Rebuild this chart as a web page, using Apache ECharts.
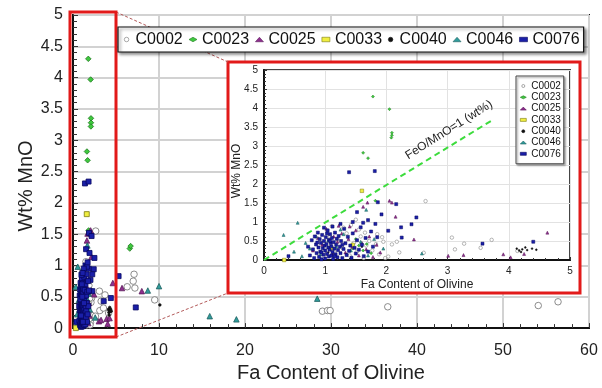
<!DOCTYPE html>
<html>
<head>
<meta charset="utf-8">
<script src="https://cdn.jsdelivr.net/npm/echarts@6/dist/echarts.min.js"></script>
<style>
html, body { margin: 0; padding: 0; background: #fff; }
#chart { width: 602px; height: 388px; }
</style>
</head>
<body>
<div id="chart"></div>
<script>
// sample names, in legend order
const sampleNames = ['C0002', 'C0023', 'C0025', 'C0033', 'C0040', 'C0046', 'C0076'];

// [Fa content, wt% MnO]
const c0002 = [
  [2.64,1.55],[3.07,0.59],[3.12,0.28],[3.27,0.43],[3.54,0.32],[3.72,0.53],[4.14,0.24],
  [2.17,0.48],[2.09,0.41],[2.21,0.20],[2.03,0.09],[1.93,0.60],[2.61,0.19],
  [1.20,0.55],[1.28,0.32],[1.35,0.70],[1.40,0.12],[1.47,0.45],[1.52,0.22],[1.58,0.62],
  [1.63,0.05],[1.67,0.38],[1.72,0.50],[1.77,0.25],[1.83,0.42],[1.88,0.15],[1.95,0.48],
  [1.98,0.05],[1.30,0.85],[1.42,0.92],[1.55,0.80],[1.65,0.72],[1.08,0.62],[1.15,0.20],
  [1.85,0.68],[1.11,0.89],[1.50,1.06],
  [6.3,0.66],[7.0,0.75],[7.1,0.86],[7.2,0.64],[9.5,0.45],
  [29.0,0.27],[29.6,0.28],[29.9,0.28],[36.6,0.34],[54.1,0.36],[56.4,0.42]
];
const c0023 = [
  [1.78,4.30],[2.05,3.97],[2.09,3.35],[2.09,3.28],[2.08,3.22],[1.62,2.82],[1.70,2.68],
  [1.82,1.56],[1.55,0.38],[1.62,0.25],[1.68,0.42],[1.45,0.30],[1.75,0.18],[1.50,0.55],
  [6.6,1.27],[6.7,1.31]
];
const c0025 = [
  [1.69,1.51],[1.62,1.40],[2.05,1.56],[2.09,1.51],[2.15,1.14],[2.45,0.54],
  [3.01,0.11],[3.26,0.13],[3.91,0.15],[4.03,0.07],[4.25,0.16],[4.63,0.72],
  [0.88,0.58],[0.95,0.40],[1.02,0.82],[1.08,0.30],[1.14,0.62],[1.20,0.48],[1.27,0.70],
  [1.33,0.20],[1.38,0.55],[1.44,0.35],[1.50,0.78],[1.55,0.12],[1.60,0.45],[1.67,0.28],
  [1.72,0.62],[1.78,0.08],[1.84,0.40],[1.90,0.20],[1.22,0.90],[1.40,0.88],[0.80,0.25],
  [1.12,0.15],
  [5.7,0.64],[8.0,0.59]
];
const c0033 = [[1.60,1.82],[0.33,0.0],[1.10,0.32],[1.45,0.40]];
const c0040 = [
  [4.13,0.30],[4.17,0.25],[4.22,0.28],[4.30,0.26],[4.38,0.30],[4.45,0.27],[4.20,0.21],
  [4.27,0.33],[1.05,0.20],[1.35,0.15],[1.60,0.35],
  [10.1,0.37]
];
const c0046 = [
  [0.55,0.98],[0.32,0.66],[0.49,0.22],[1.67,1.32],[2.58,0.17],
  [0.68,0.45],[0.75,0.30],[0.85,0.62],[0.92,0.15],[1.05,0.52],[1.18,0.35],[1.30,0.68],
  [1.42,0.25],[1.58,0.48],[1.70,0.12],[1.80,0.55],[1.95,0.30],[0.62,0.10],[1.25,0.80],
  [8.7,0.60],[10.0,0.67],[15.9,0.19],[19.0,0.14],[28.4,0.47]
];
const c0076 = [
  [1.39,2.31],[1.81,2.34],[1.86,1.52],[2.16,1.47],[1.52,1.26],[1.92,1.20],[2.49,1.12],
  [2.41,0.94],[2.24,0.86],[2.25,0.59],[2.03,0.77],[3.57,0.43],[4.40,0.48],[0.40,0.10],
  [0.72,0.35],[0.75,0.12],[0.78,0.52],[0.80,0.28],[0.82,0.05],[0.83,0.62],[0.85,0.41],
  [0.86,0.18],[0.88,0.72],[0.89,0.33],[0.90,0.08],[0.91,0.55],[0.92,0.22],[0.93,0.45],
  [0.94,0.02],[0.95,0.66],[0.96,0.31],[0.97,0.14],[0.98,0.50],[0.99,0.38],[1.00,0.04],
  [1.00,0.25],[1.01,0.60],[1.02,0.42],[1.03,0.16],[1.04,0.78],[1.05,0.33],[1.06,0.09],
  [1.06,0.53],[1.07,0.27],[1.08,0.68],[1.09,0.45],[1.10,0.12],[1.10,0.36],[1.11,0.58],
  [1.12,0.21],[1.13,0.03],[1.14,0.47],[1.15,0.30],[1.16,0.72],[1.17,0.15],[1.18,0.40],
  [1.19,0.56],[1.20,0.07],[1.21,0.26],[1.22,0.63],[1.24,0.35],[1.25,0.18],[1.26,0.50],
  [1.28,0.05],[1.30,0.29],[1.31,0.82],[1.33,0.44],[1.35,0.13],[1.37,0.61],[1.39,0.24],
  [1.41,0.38],[1.43,0.06],[1.45,0.70],[1.48,0.32],[1.50,0.17],[1.52,0.52],[1.55,0.27],
  [1.58,0.86],[1.60,0.40],[1.63,0.10],[1.66,0.58],[1.70,0.22],[1.75,0.75],[1.78,0.35],
  [1.82,0.95],[1.85,0.60],[1.45,1.00],[1.62,0.98],[1.25,0.95],[0.98,0.85],[1.12,0.88],
  [1.70,1.05],[0.87,0.46],[1.03,0.70],[0.94,0.20],[1.15,0.10],[1.28,0.40],[1.08,0.50],
  [5.3,0.83],[7.3,0.33]
];
const sampleData = [c0002, c0023, c0025, c0033, c0040, c0046, c0076];

// FeO/MnO = 1 reference line (inset)
const ratioLine = [[0, 0], [3.75, 3.7]];

const mainX = { min: 0, max: 60, interval: 10 };
const mainY = { min: 0, max: 5, interval: 0.5 };
const insetX = { min: 0, max: 5, interval: 1 };
const insetY = { min: 0, max: 5, interval: 0.5 };

const font = 'Liberation Sans, Arial, sans-serif';

// marker look per sample: [symbol, fill, border, main size, inset size]
const looks = [
  ['circle',   '#ffffff', '#707070', 6.5, 3.5],
  ['diamond',  '#3fc83f', '#1f7a1f', 5.5, 3],
  ['triangle', '#8e2f8e', '#5a1a5a', 5.5, 3],
  ['rect',     '#f0ee40', '#7a7a10', 5, 3.5],
  ['circle',   '#111111', '#111111', 2.5, 1.8],
  ['triangle', '#2f9c9c', '#1f5f5f', 5.5, 3],
  ['rect',     '#1a1fa8', '#060660', 5, 3]
];

let chart = echarts.init(document.getElementById('chart'), null, { renderer: 'canvas' });

let series = [];
sampleNames.forEach((name, i) => {
  let lk = looks[i];
  series.push({
    name: name, type: 'scatter', xAxisIndex: 0, yAxisIndex: 0, z: 1,
    symbol: lk[0], symbolSize: lk[3],
    itemStyle: { color: lk[1], borderColor: lk[2], borderWidth: 0.8, opacity: 1 },
    data: sampleData[i]
  });
});
sampleNames.forEach((name, i) => {
  let lk = looks[i];
  series.push({
    name: name, type: 'scatter', xAxisIndex: 1, yAxisIndex: 1, z: 5,
    symbol: lk[0], symbolSize: lk[4],
    itemStyle: { color: lk[1], borderColor: lk[2], borderWidth: 0.5, opacity: 1 },
    data: sampleData[i].filter(p => p[0] <= insetX.max)
  });
});
series.push({
  name: 'FeO/MnO=1', type: 'line', xAxisIndex: 1, yAxisIndex: 1, z: 5,
  symbol: 'none', data: ratioLine,
  lineStyle: { color: '#3ddc3d', width: 2, type: [6, 4] }
});

let legendData = sampleNames.map((name, i) => ({
  name: name, icon: looks[i][0],
  itemStyle: { color: looks[i][1], borderColor: looks[i][2], borderWidth: 0.6 }
}));

function axisCommon(cfg, fontSize, margin, lineW, gridCol, gridW) {
  return {
    type: 'value', min: cfg.min, max: cfg.max, interval: cfg.interval,
    axisLine: { show: true, onZero: false, lineStyle: { color: '#111', width: lineW } },
    axisTick: { show: true, inside: true, length: fontSize > 12 ? 5 : 3, lineStyle: { color: '#333' } },
    minorTick: { show: true, splitNumber: 5, length: fontSize > 12 ? 4 : 2, lineStyle: { color: '#333' } },
    splitLine: { show: true, lineStyle: { color: gridCol, width: gridW } },
    axisLabel: { fontSize: fontSize, color: '#222', margin: margin, fontFamily: font }
  };
}

let option = {
  animation: false,
  backgroundColor: '#fff',
  textStyle: { fontFamily: font },
  grid: [
    { left: 73, top: 15, width: 516, height: 320, show: true, borderColor: '#111', borderWidth: 2, z: 0 },
    { left: 264, top: 70, width: 306, height: 190, show: true, borderColor: '#444', borderWidth: 2,
      backgroundColor: '#fff', z: 4 }
  ],
  xAxis: [
    Object.assign(axisCommon(mainX, 16, 14, 2, '#d2d2d2', 2), { gridIndex: 0, z: 0,
      name: 'Fa Content of Olivine', nameLocation: 'middle', nameGap: 28,
      nameTextStyle: { fontSize: 20, color: '#222', fontFamily: font } }),
    Object.assign(axisCommon(insetX, 10, 6, 2, '#e2e2e2', 1), { gridIndex: 1, z: 4,
      name: 'Fa Content of Olivine', nameLocation: 'middle', nameGap: 19,
      nameTextStyle: { fontSize: 12, color: '#222', fontFamily: font } })
  ],
  yAxis: [
    Object.assign(axisCommon(mainY, 16, 10, 2, '#d2d2d2', 2), { gridIndex: 0, z: 0 }),
    Object.assign(axisCommon(insetY, 10, 6, 2, '#e2e2e2', 1), { gridIndex: 1, z: 4 })
  ],
  legend: [
    {
      data: legendData, orient: 'horizontal', left: 118, top: 27, z: 7,
      itemWidth: 8, itemHeight: 4.5, itemGap: 6, padding: [4.5, 4, 4.5, 6],
      backgroundColor: '#fff', borderColor: '#111', borderWidth: 1.2,
      shadowBlur: 3, shadowColor: 'rgba(0,0,0,0.45)', shadowOffsetX: 2, shadowOffsetY: 2,
      textStyle: { fontSize: 16, color: '#111', fontFamily: font },
      selectedMode: false
    },
    {
      data: legendData, orient: 'vertical', left: 516, top: 76, z: 7,
      itemWidth: 6, itemHeight: 3, itemGap: 1.3, padding: [5, 3, 5, 4],
      backgroundColor: '#fff', borderColor: '#444', borderWidth: 1,
      shadowBlur: 2, shadowColor: 'rgba(0,0,0,0.4)', shadowOffsetX: 1.5, shadowOffsetY: 1.5,
      textStyle: { fontSize: 10, lineHeight: 10, color: '#111', fontFamily: font },
      selectedMode: false
    }
  ],
  graphic: [
    // inset panel frame
    { type: 'rect', z: 3, shape: { x: 228, y: 62, width: 352, height: 231 },
      style: { fill: '#fff', stroke: '#e21a1a', lineWidth: 3 } },
    // zoom box on main plot
    { type: 'rect', z: 6, shape: { x: 70, y: 12, width: 46, height: 325 },
      style: { fill: 'none', stroke: '#e21a1a', lineWidth: 3 } },
    { type: 'line', z: 3, shape: { x1: 116, y1: 12, x2: 228, y2: 62 },
      style: { stroke: '#b35a5a', lineWidth: 1, lineDash: [3, 2] } },
    { type: 'line', z: 3, shape: { x1: 116, y1: 337, x2: 228, y2: 293 },
      style: { stroke: '#b35a5a', lineWidth: 1, lineDash: [3, 2] } },
    // axis titles on y
    { type: 'text', z: 6, x: 26, y: 186, rotation: Math.PI / 2,
      style: { text: 'Wt% MnO', fontSize: 20, fill: '#222', align: 'center', verticalAlign: 'middle', fontFamily: font } },
    { type: 'text', z: 6, x: 237, y: 171, rotation: Math.PI / 2,
      style: { text: 'Wt% MnO', fontSize: 12, fill: '#222', align: 'center', verticalAlign: 'middle', fontFamily: font } },
    // reference line label
    { type: 'text', z: 6, x: 449, y: 130, rotation: 32 * Math.PI / 180,
      style: { text: 'FeO/MnO=1 (wt%)', fontSize: 12, fill: '#222', align: 'center', verticalAlign: 'middle', fontFamily: font } }
  ],
  series: series
};

chart.setOption(option);
</script>
</body>
</html>
